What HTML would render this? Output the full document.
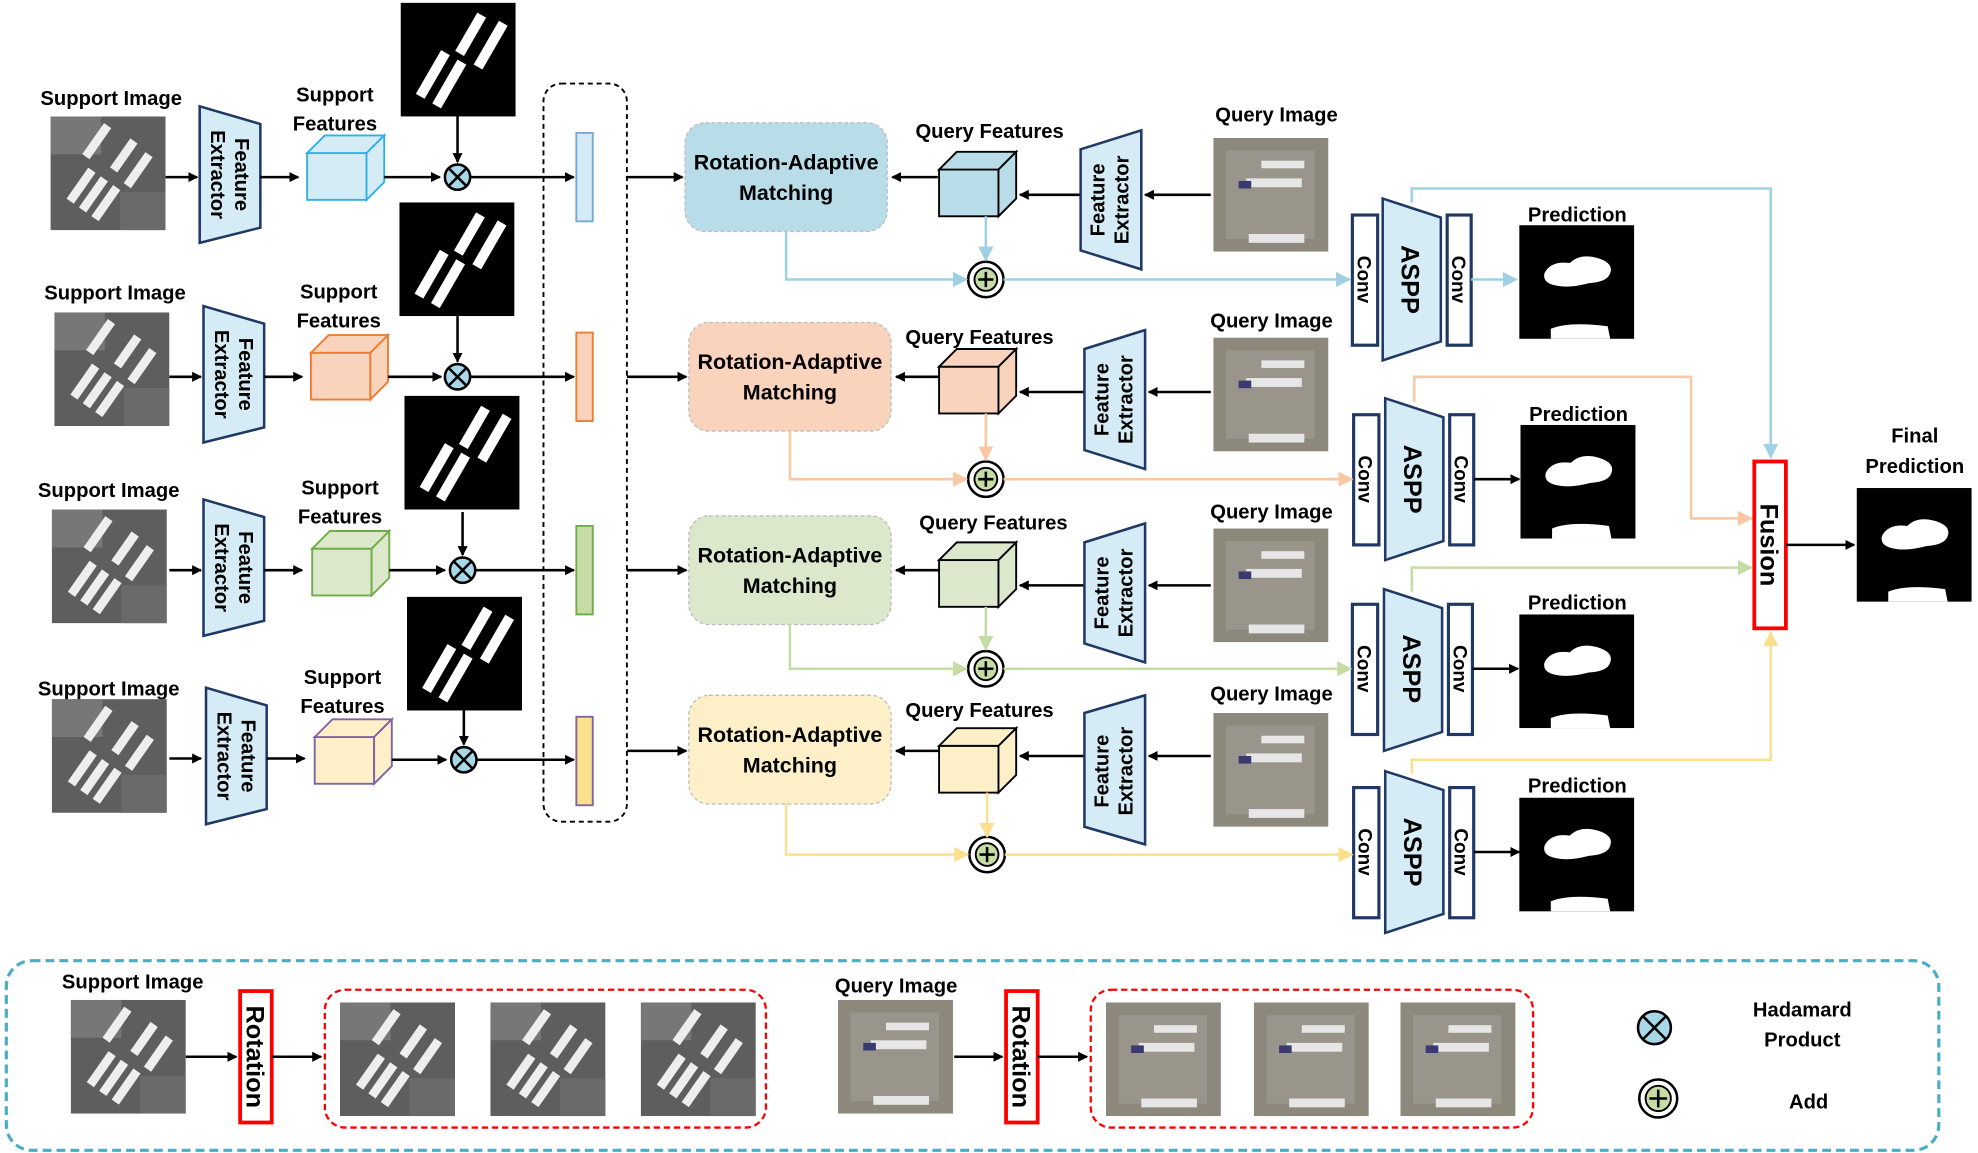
<!DOCTYPE html>
<html><head><meta charset="utf-8"><style>
html,body{margin:0;padding:0;background:#fff}
svg{display:block}
text{font-family:"Liberation Sans",sans-serif;font-weight:bold;fill:#000}
</style></head><body>
<svg width="1978" height="1153" viewBox="0 0 1565 912" xmlns="http://www.w3.org/2000/svg">
<defs>
<marker id="ab" markerWidth="8" markerHeight="8" refX="7" refY="4" orient="auto" markerUnits="userSpaceOnUse"><path d="M0,0L8,4L0,8z" fill="#000"/></marker>
<marker id="abl" markerWidth="12" markerHeight="12" refX="11" refY="6" orient="auto" markerUnits="userSpaceOnUse"><path d="M0,0L12,6L0,12z" fill="#9fd0e3"/></marker>
<marker id="aor" markerWidth="12" markerHeight="12" refX="11" refY="6" orient="auto" markerUnits="userSpaceOnUse"><path d="M0,0L12,6L0,12z" fill="#f8c8a4"/></marker>
<marker id="agr" markerWidth="12" markerHeight="12" refX="11" refY="6" orient="auto" markerUnits="userSpaceOnUse"><path d="M0,0L12,6L0,12z" fill="#c5dca5"/></marker>
<marker id="aye" markerWidth="12" markerHeight="12" refX="11" refY="6" orient="auto" markerUnits="userSpaceOnUse"><path d="M0,0L12,6L0,12z" fill="#fbe08f"/></marker>
<symbol id="simg" viewBox="0 0 91 90" width="91" height="90">
<rect width="91" height="90" fill="#5e5e5e"/><rect x="0" y="0" width="40" height="30" fill="#777"/><rect x="55" y="60" width="36" height="30" fill="#6a6a6a"/>
<g fill="#eee" transform="rotate(-55 45 45)"><rect x="10" y="30" width="30" height="7"/><rect x="10" y="42" width="30" height="7"/><rect x="10" y="54" width="30" height="7"/><rect x="46" y="20" width="30" height="7"/><rect x="46" y="60" width="30" height="7"/><rect x="50" y="44" width="28" height="7"/></g>
</symbol>
<symbol id="qimg" viewBox="0 0 91 90" width="91" height="90">
<rect width="91" height="90" fill="#8d887c"/><rect x="10" y="10" width="70" height="70" fill="#9a958a"/>
<g fill="#e6e6e6"><rect x="26" y="32" width="44" height="7"/><rect x="28" y="76" width="44" height="7"/><rect x="38" y="18" width="34" height="6"/></g>
<rect x="20" y="34" width="10" height="6" fill="#3a3a70"/>
</symbol>
<symbol id="mask" viewBox="0 0 91 90" width="91" height="90">
<rect width="91" height="90" fill="#000"/>
<g fill="#fff" transform="rotate(-60 45 45)"><rect x="5" y="30" width="40" height="8"/><rect x="5" y="45" width="40" height="8"/><rect x="50" y="40" width="35" height="8"/><rect x="48" y="58" width="40" height="8"/></g>
</symbol>
<symbol id="pred" viewBox="0 0 91 90" width="91" height="90">
<rect width="91" height="90" fill="#000"/>
<path d="M20,38 Q25,28 40,30 Q48,22 62,26 Q75,30 72,38 Q70,45 55,46 Q40,50 30,48 Q18,46 20,38z" fill="#fff"/>
<path d="M25,82 Q40,76 70,80 L72,90 L25,90z" fill="#fff"/>
</symbol>
</defs>

<!-- dashed container -->
<rect x="430" y="66" width="66" height="584" rx="14" fill="none" stroke="#000" stroke-width="1.5" stroke-dasharray="4,3"/>

<!-- ROW TEMPLATE x4 -->
<g id="r1">
<text x="88" y="83" font-size="16" text-anchor="middle">Support Image</text>
<use href="#simg" x="40" y="92"/>
<line x1="131" y1="140" x2="156" y2="140" stroke="#000" stroke-width="2" marker-end="url(#ab)"/>
<polygon points="158,84 206,98 206,180 158,192" fill="#d5ebf5" stroke="#1f3864" stroke-width="2"/>
<g transform="rotate(90 182 138)"><text x="182" y="134" font-size="16" text-anchor="middle">Feature</text><text x="182" y="153" font-size="16" text-anchor="middle">Extractor</text></g>
<line x1="206" y1="140" x2="236" y2="140" stroke="#000" stroke-width="2" marker-end="url(#ab)"/>
<text x="265" y="80" font-size="16" text-anchor="middle">Support</text><text x="265" y="103" font-size="16" text-anchor="middle">Features</text>
<g fill="#d5ebf5" stroke="#2fb0e8" stroke-width="1.5"><rect x="243" y="121" width="47" height="37"/><polygon points="243,121 257,107 304,107 290,121"/><polygon points="290,121 304,107 304,144 290,158"/></g>
<line x1="304" y1="140" x2="348" y2="140" stroke="#000" stroke-width="2" marker-end="url(#ab)"/>
<use href="#mask" x="317" y="2"/>
<line x1="362" y1="92" x2="362" y2="128" stroke="#000" stroke-width="2" marker-end="url(#ab)"/>
<circle cx="362" cy="140" r="10" fill="#a8d8e8" stroke="#000" stroke-width="2"/><path d="M355,133L369,147M369,133L355,147" stroke="#000" stroke-width="2"/>
<line x1="372" y1="140" x2="454" y2="140" stroke="#000" stroke-width="2" marker-end="url(#ab)"/>
<rect x="456" y="105" width="13" height="70" fill="#d5ebf5" stroke="#7ba7d8" stroke-width="1.5"/>
<line x1="496" y1="140" x2="540" y2="140" stroke="#000" stroke-width="2" marker-end="url(#ab)"/>
<rect x="542" y="97" width="160" height="86" rx="16" fill="#b8dde9" stroke="#bbb" stroke-dasharray="3,2"/>
<text x="622" y="134" font-size="17" text-anchor="middle">Rotation-Adaptive</text><text x="622" y="158" font-size="17" text-anchor="middle">Matching</text>
<line x1="742" y1="140" x2="706" y2="140" stroke="#000" stroke-width="2" marker-end="url(#ab)"/>
<text x="783" y="109" font-size="16" text-anchor="middle">Query Features</text>
<g fill="#b8dde9" stroke="#000" stroke-width="1.5"><rect x="743" y="134" width="47" height="37"/><polygon points="743,134 757,120 804,120 790,134"/><polygon points="790,134 804,120 804,157 790,171"/></g>
<line x1="855" y1="154" x2="807" y2="154" stroke="#000" stroke-width="2" marker-end="url(#ab)"/>
<polygon points="855,118 903,103 903,213 855,198" fill="#d5ebf5" stroke="#1f3864" stroke-width="2"/>
<g transform="rotate(-90 879 158)"><text x="879" y="153" font-size="16" text-anchor="middle">Feature</text><text x="879" y="172" font-size="16" text-anchor="middle">Extractor</text></g>
<line x1="958" y1="154" x2="906" y2="154" stroke="#000" stroke-width="2" marker-end="url(#ab)"/>
<text x="1010" y="96" font-size="16" text-anchor="middle">Query Image</text>
<use href="#qimg" x="960" y="109"/>
<circle cx="780" cy="221" r="14" fill="#fff" stroke="#000" stroke-width="2"/><circle cx="780" cy="221" r="9" fill="#c5dca5" stroke="#000" stroke-width="1.5"/><path d="M780,215V227M774,221H786" stroke="#000" stroke-width="2"/>
<rect x="1070" y="170" width="20" height="103" fill="#fff" stroke="#1f3864" stroke-width="2.5"/>
<text transform="translate(1074 221) rotate(90)" font-size="15" text-anchor="middle">Conv</text>
<polygon points="1094,157 1140,172 1140,270 1094,285" fill="#d5ebf5" stroke="#1f3864" stroke-width="2"/>
<text transform="translate(1109 221) rotate(90)" font-size="20" text-anchor="middle">ASPP</text>
<rect x="1145" y="170" width="19" height="103" fill="#fff" stroke="#1f3864" stroke-width="2.5"/>
<text transform="translate(1149 221) rotate(90)" font-size="15" text-anchor="middle">Conv</text>
<text x="1248" y="175" font-size="16" text-anchor="middle">Prediction</text>
<use href="#pred" x="1202" y="178"/>
</g>

<g transform="translate(3 158)">
<text x="88" y="79" font-size="16" text-anchor="middle">Support Image</text>
<use href="#simg" x="40" y="89"/>
<line x1="131" y1="140" x2="156" y2="140" stroke="#000" stroke-width="2" marker-end="url(#ab)"/>
<polygon points="158,84 206,98 206,180 158,192" fill="#d5ebf5" stroke="#1f3864" stroke-width="2"/>
<g transform="rotate(90 182 138)"><text x="182" y="134" font-size="16" text-anchor="middle">Feature</text><text x="182" y="153" font-size="16" text-anchor="middle">Extractor</text></g>
<line x1="206" y1="140" x2="236" y2="140" stroke="#000" stroke-width="2" marker-end="url(#ab)"/>
<text x="265" y="78" font-size="16" text-anchor="middle">Support</text><text x="265" y="101" font-size="16" text-anchor="middle">Features</text>
<g fill="#f9d3bc" stroke="#ed7d31" stroke-width="1.5"><rect x="243" y="121" width="47" height="37"/><polygon points="243,121 257,107 304,107 290,121"/><polygon points="290,121 304,107 304,144 290,158"/></g>
<line x1="304" y1="140" x2="346" y2="140" stroke="#000" stroke-width="2" marker-end="url(#ab)"/>
<use href="#mask" x="313" y="2"/>
<line x1="359" y1="92" x2="359" y2="128" stroke="#000" stroke-width="2" marker-end="url(#ab)"/>
<circle cx="359" cy="140" r="10" fill="#a8d8e8" stroke="#000" stroke-width="2"/><path d="M352,133L366,147M366,133L352,147" stroke="#000" stroke-width="2"/>
<line x1="369" y1="140" x2="451" y2="140" stroke="#000" stroke-width="2" marker-end="url(#ab)"/>
<rect x="453" y="105" width="13" height="70" fill="#f9d3bc" stroke="#ed7d31" stroke-width="1.5"/>
<line x1="493" y1="140" x2="540" y2="140" stroke="#000" stroke-width="2" marker-end="url(#ab)"/>
<rect x="542" y="97" width="160" height="86" rx="16" fill="#f9d3bc" stroke="#bbb" stroke-dasharray="3,2"/>
<text x="622" y="134" font-size="17" text-anchor="middle">Rotation-Adaptive</text><text x="622" y="158" font-size="17" text-anchor="middle">Matching</text>
<line x1="740" y1="140" x2="706" y2="140" stroke="#000" stroke-width="2" marker-end="url(#ab)"/>
<text x="772" y="114" font-size="16" text-anchor="middle">Query Features</text>
<g fill="#f9d3bc" stroke="#000" stroke-width="1.5"><rect x="740" y="132" width="47" height="37"/><polygon points="740,132 754,118 801,118 787,132"/><polygon points="787,132 801,118 801,155 787,169"/></g>
<line x1="855" y1="152" x2="804" y2="152" stroke="#000" stroke-width="2" marker-end="url(#ab)"/>
<polygon points="855,118 903,103 903,213 855,198" fill="#d5ebf5" stroke="#1f3864" stroke-width="2"/>
<g transform="rotate(-90 879 158)"><text x="879" y="153" font-size="16" text-anchor="middle">Feature</text><text x="879" y="172" font-size="16" text-anchor="middle">Extractor</text></g>
<line x1="955" y1="152" x2="906" y2="152" stroke="#000" stroke-width="2" marker-end="url(#ab)"/>
<text x="1003" y="101" font-size="16" text-anchor="middle">Query Image</text>
<use href="#qimg" x="957" y="109"/>
<circle cx="777" cy="221" r="14" fill="#fff" stroke="#000" stroke-width="2"/><circle cx="777" cy="221" r="9" fill="#c5dca5" stroke="#000" stroke-width="1.5"/><path d="M777,215V227M771,221H783" stroke="#000" stroke-width="2"/>
<rect x="1068" y="170" width="20" height="103" fill="#fff" stroke="#1f3864" stroke-width="2.5"/>
<text transform="translate(1072 221) rotate(90)" font-size="15" text-anchor="middle">Conv</text>
<polygon points="1093,157 1139,172 1139,270 1093,285" fill="#d5ebf5" stroke="#1f3864" stroke-width="2"/>
<text transform="translate(1108 221) rotate(90)" font-size="20" text-anchor="middle">ASPP</text>
<rect x="1144" y="170" width="19" height="103" fill="#fff" stroke="#1f3864" stroke-width="2.5"/>
<text transform="translate(1148 221) rotate(90)" font-size="15" text-anchor="middle">Conv</text>
<line x1="1163" y1="221" x2="1199" y2="221" stroke="#000" stroke-width="2" marker-end="url(#ab)"/>
<text x="1246" y="175" font-size="16" text-anchor="middle">Prediction</text>
<use href="#pred" x="1200" y="178"/>
</g>

<g transform="translate(3 311)">
<text x="83" y="82" font-size="16" text-anchor="middle">Support Image</text>
<use href="#simg" x="38" y="92"/>
<line x1="131" y1="140" x2="156" y2="140" stroke="#000" stroke-width="2" marker-end="url(#ab)"/>
<polygon points="158,84 206,98 206,180 158,192" fill="#d5ebf5" stroke="#1f3864" stroke-width="2"/>
<g transform="rotate(90 182 138)"><text x="182" y="134" font-size="16" text-anchor="middle">Feature</text><text x="182" y="153" font-size="16" text-anchor="middle">Extractor</text></g>
<line x1="206" y1="140" x2="236" y2="140" stroke="#000" stroke-width="2" marker-end="url(#ab)"/>
<text x="266" y="80" font-size="16" text-anchor="middle">Support</text><text x="266" y="103" font-size="16" text-anchor="middle">Features</text>
<g fill="#dbe8cc" stroke="#70ad47" stroke-width="1.5"><rect x="244" y="123" width="47" height="37"/><polygon points="244,123 258,109 305,109 291,123"/><polygon points="291,123 305,109 305,146 291,160"/></g>
<line x1="305" y1="140" x2="349" y2="140" stroke="#000" stroke-width="2" marker-end="url(#ab)"/>
<use href="#mask" x="317" y="2"/>
<line x1="363" y1="94" x2="363" y2="128" stroke="#000" stroke-width="2" marker-end="url(#ab)"/>
<circle cx="363" cy="140" r="10" fill="#a8d8e8" stroke="#000" stroke-width="2"/><path d="M356,133L370,147M370,133L356,147" stroke="#000" stroke-width="2"/>
<line x1="373" y1="140" x2="451" y2="140" stroke="#000" stroke-width="2" marker-end="url(#ab)"/>
<rect x="453" y="105" width="13" height="70" fill="#c5dca5" stroke="#70ad47" stroke-width="1.5"/>
<line x1="493" y1="140" x2="540" y2="140" stroke="#000" stroke-width="2" marker-end="url(#ab)"/>
<rect x="542" y="97" width="160" height="86" rx="16" fill="#dbe8cc" stroke="#bbb" stroke-dasharray="3,2"/>
<text x="622" y="134" font-size="17" text-anchor="middle">Rotation-Adaptive</text><text x="622" y="158" font-size="17" text-anchor="middle">Matching</text>
<line x1="740" y1="140" x2="706" y2="140" stroke="#000" stroke-width="2" marker-end="url(#ab)"/>
<text x="783" y="108" font-size="16" text-anchor="middle">Query Features</text>
<g fill="#dbe8cc" stroke="#000" stroke-width="1.5"><rect x="740" y="132" width="47" height="37"/><polygon points="740,132 754,118 801,118 787,132"/><polygon points="787,132 801,118 801,155 787,169"/></g>
<line x1="855" y1="152" x2="804" y2="152" stroke="#000" stroke-width="2" marker-end="url(#ab)"/>
<polygon points="855,118 903,103 903,213 855,198" fill="#d5ebf5" stroke="#1f3864" stroke-width="2"/>
<g transform="rotate(-90 879 158)"><text x="879" y="153" font-size="16" text-anchor="middle">Feature</text><text x="879" y="172" font-size="16" text-anchor="middle">Extractor</text></g>
<line x1="955" y1="152" x2="906" y2="152" stroke="#000" stroke-width="2" marker-end="url(#ab)"/>
<text x="1003" y="99" font-size="16" text-anchor="middle">Query Image</text>
<use href="#qimg" x="957" y="107"/>
<circle cx="777" cy="218" r="14" fill="#fff" stroke="#000" stroke-width="2"/><circle cx="777" cy="218" r="9" fill="#c5dca5" stroke="#000" stroke-width="1.5"/><path d="M777,212V224M771,218H783" stroke="#000" stroke-width="2"/>
<rect x="1067" y="167" width="20" height="103" fill="#fff" stroke="#1f3864" stroke-width="2.5"/>
<text transform="translate(1071 218) rotate(90)" font-size="15" text-anchor="middle">Conv</text>
<polygon points="1092,155 1138,170 1138,268 1092,283" fill="#d5ebf5" stroke="#1f3864" stroke-width="2"/>
<text transform="translate(1107 218) rotate(90)" font-size="20" text-anchor="middle">ASPP</text>
<rect x="1143" y="167" width="19" height="103" fill="#fff" stroke="#1f3864" stroke-width="2.5"/>
<text transform="translate(1147 218) rotate(90)" font-size="15" text-anchor="middle">Conv</text>
<line x1="1162" y1="218" x2="1198" y2="218" stroke="#000" stroke-width="2" marker-end="url(#ab)"/>
<text x="1245" y="171" font-size="16" text-anchor="middle">Prediction</text>
<use href="#pred" x="1199" y="175"/>
</g>

<g transform="translate(3 460)">
<text x="83" y="90" font-size="16" text-anchor="middle">Support Image</text>
<use href="#simg" x="38" y="93"/>
<line x1="131" y1="140" x2="156" y2="140" stroke="#000" stroke-width="2" marker-end="url(#ab)"/>
<polygon points="160,84 208,98 208,180 160,192" fill="#d5ebf5" stroke="#1f3864" stroke-width="2"/>
<g transform="rotate(90 184 138)"><text x="184" y="134" font-size="16" text-anchor="middle">Feature</text><text x="184" y="153" font-size="16" text-anchor="middle">Extractor</text></g>
<line x1="208" y1="140" x2="238" y2="140" stroke="#000" stroke-width="2" marker-end="url(#ab)"/>
<text x="268" y="81" font-size="16" text-anchor="middle">Support</text><text x="268" y="104" font-size="16" text-anchor="middle">Features</text>
<g fill="#fdf0c9" stroke="#8064a2" stroke-width="1.5"><rect x="246" y="123" width="47" height="37"/><polygon points="246,123 260,109 307,109 293,123"/><polygon points="293,123 307,109 307,146 293,160"/></g>
<line x1="307" y1="141" x2="350" y2="141" stroke="#000" stroke-width="2" marker-end="url(#ab)"/>
<use href="#mask" x="319" y="12"/>
<line x1="364" y1="102" x2="364" y2="129" stroke="#000" stroke-width="2" marker-end="url(#ab)"/>
<circle cx="364" cy="141" r="10" fill="#a8d8e8" stroke="#000" stroke-width="2"/><path d="M357,134L371,148M371,134L357,148" stroke="#000" stroke-width="2"/>
<line x1="374" y1="141" x2="451" y2="141" stroke="#000" stroke-width="2" marker-end="url(#ab)"/>
<rect x="453" y="107" width="13" height="70" fill="#fbe08f" stroke="#8064a2" stroke-width="1.5"/>
<line x1="493" y1="134" x2="540" y2="134" stroke="#000" stroke-width="2" marker-end="url(#ab)"/>
<rect x="542" y="90" width="160" height="86" rx="16" fill="#fdf0c9" stroke="#bbb" stroke-dasharray="3,2"/>
<text x="622" y="127" font-size="17" text-anchor="middle">Rotation-Adaptive</text><text x="622" y="151" font-size="17" text-anchor="middle">Matching</text>
<line x1="740" y1="134" x2="706" y2="134" stroke="#000" stroke-width="2" marker-end="url(#ab)"/>
<text x="772" y="107" font-size="16" text-anchor="middle">Query Features</text>
<g fill="#fdf0c9" stroke="#000" stroke-width="1.5"><rect x="740" y="130" width="47" height="37"/><polygon points="740,130 754,116 801,116 787,130"/><polygon points="787,130 801,116 801,153 787,167"/></g>
<line x1="855" y1="138" x2="804" y2="138" stroke="#000" stroke-width="2" marker-end="url(#ab)"/>
<polygon points="855,104 903,90 903,208 855,194" fill="#d5ebf5" stroke="#1f3864" stroke-width="2"/>
<g transform="rotate(-90 879 150)"><text x="879" y="145" font-size="16" text-anchor="middle">Feature</text><text x="879" y="164" font-size="16" text-anchor="middle">Extractor</text></g>
<line x1="955" y1="138" x2="906" y2="138" stroke="#000" stroke-width="2" marker-end="url(#ab)"/>
<text x="1003" y="94" font-size="16" text-anchor="middle">Query Image</text>
<use href="#qimg" x="957" y="104"/>
<circle cx="778" cy="216" r="14" fill="#fff" stroke="#000" stroke-width="2"/><circle cx="778" cy="216" r="9" fill="#c5dca5" stroke="#000" stroke-width="1.5"/><path d="M778,210V222M772,216H784" stroke="#000" stroke-width="2"/>
<rect x="1068" y="163" width="20" height="103" fill="#fff" stroke="#1f3864" stroke-width="2.5"/>
<text transform="translate(1072 214) rotate(90)" font-size="15" text-anchor="middle">Conv</text>
<polygon points="1093,150 1139,165 1139,263 1093,278" fill="#d5ebf5" stroke="#1f3864" stroke-width="2"/>
<text transform="translate(1108 214) rotate(90)" font-size="20" text-anchor="middle">ASPP</text>
<rect x="1144" y="163" width="19" height="103" fill="#fff" stroke="#1f3864" stroke-width="2.5"/>
<text transform="translate(1148 214) rotate(90)" font-size="15" text-anchor="middle">Conv</text>
<line x1="1163" y1="214" x2="1199" y2="214" stroke="#000" stroke-width="2" marker-end="url(#ab)"/>
<text x="1245" y="167" font-size="16" text-anchor="middle">Prediction</text>
<use href="#pred" x="1199" y="171"/>
</g>

<!-- colored connectors -->
<g fill="none" stroke-width="2">
<!-- blue -->
<path d="M780,171V206" stroke="#9fd0e3" marker-end="url(#abl)"/>
<path d="M622,183V221H765" stroke="#9fd0e3" marker-end="url(#abl)"/>
<path d="M794,221H1068" stroke="#9fd0e3" marker-end="url(#abl)"/>
<path d="M1164,221H1200" stroke="#9fd0e3" marker-end="url(#abl)"/>
<path d="M1117,160V149H1401V362" stroke="#9fd0e3" marker-end="url(#abl)"/>
<!-- orange -->
<path d="M780,327V364" stroke="#f8c8a4" marker-end="url(#aor)"/>
<path d="M625,341V379H765" stroke="#f8c8a4" marker-end="url(#aor)"/>
<path d="M794,379H1070" stroke="#f8c8a4" marker-end="url(#aor)"/>
<path d="M1119,318V298H1338V410H1386" stroke="#f8c8a4" marker-end="url(#aor)"/>
<!-- green -->
<path d="M780,480V514" stroke="#c5dca5" marker-end="url(#agr)"/>
<path d="M625,494V529H765" stroke="#c5dca5" marker-end="url(#agr)"/>
<path d="M794,529H1069" stroke="#c5dca5" marker-end="url(#agr)"/>
<path d="M1117,468V449H1386" stroke="#c5dca5" marker-end="url(#agr)"/>
<!-- yellow -->
<path d="M781,627V662" stroke="#fbe08f" marker-end="url(#aye)"/>
<path d="M622,636V676H766" stroke="#fbe08f" marker-end="url(#aye)"/>
<path d="M795,676H1070" stroke="#fbe08f" marker-end="url(#aye)"/>
<path d="M1117,612V601H1401V500" stroke="#fbe08f" marker-end="url(#aye)"/>
</g>

<!-- Fusion -->
<rect x="1388" y="365" width="25" height="132" fill="#fff" stroke="#ff0000" stroke-width="3"/>
<text transform="translate(1393 431) rotate(90)" font-size="20" text-anchor="middle">Fusion</text>
<line x1="1413" y1="431" x2="1467" y2="431" stroke="#000" stroke-width="2" marker-end="url(#ab)"/>
<text x="1515" y="350" font-size="16" text-anchor="middle">Final</text>
<text x="1515" y="374" font-size="16" text-anchor="middle">Prediction</text>
<use href="#pred" x="1469" y="386"/>

<!-- Legend -->
<rect x="5" y="760" width="1529" height="150" rx="20" fill="none" stroke="#4bacc6" stroke-width="2.5" stroke-dasharray="7,4"/>
<text x="105" y="782" font-size="16" text-anchor="middle">Support Image</text>
<use href="#simg" x="56" y="791"/>
<line x1="147" y1="836" x2="187" y2="836" stroke="#000" stroke-width="2" marker-end="url(#ab)"/>
<rect x="190" y="784" width="25" height="104" fill="#fff" stroke="#ff0000" stroke-width="3"/>
<text transform="translate(195 836) rotate(90)" font-size="20" text-anchor="middle">Rotation</text>
<line x1="215" y1="836" x2="254" y2="836" stroke="#000" stroke-width="2" marker-end="url(#ab)"/>
<rect x="257" y="783" width="349" height="109" rx="16" fill="none" stroke="#ff0000" stroke-width="1.8" stroke-dasharray="5,3"/>
<use href="#simg" x="269" y="793"/><use href="#simg" x="388" y="793"/><use href="#simg" x="507" y="793"/>
<text x="709" y="785" font-size="16" text-anchor="middle">Query Image</text>
<use href="#qimg" x="663" y="791"/>
<line x1="755" y1="836" x2="793" y2="836" stroke="#000" stroke-width="2" marker-end="url(#ab)"/>
<rect x="796" y="784" width="25" height="104" fill="#fff" stroke="#ff0000" stroke-width="3"/>
<text transform="translate(801 836) rotate(90)" font-size="20" text-anchor="middle">Rotation</text>
<line x1="821" y1="836" x2="860" y2="836" stroke="#000" stroke-width="2" marker-end="url(#ab)"/>
<rect x="863" y="783" width="350" height="109" rx="16" fill="none" stroke="#ff0000" stroke-width="1.8" stroke-dasharray="5,3"/>
<use href="#qimg" x="875" y="793"/><use href="#qimg" x="992" y="793"/><use href="#qimg" x="1108" y="793"/>
<circle cx="1309" cy="813" r="13" fill="#a8d8e8" stroke="#000" stroke-width="2"/><path d="M1300,804L1318,822M1318,804L1300,822" stroke="#000" stroke-width="2"/>
<text x="1426" y="804" font-size="16" text-anchor="middle">Hadamard</text>
<text x="1426" y="828" font-size="16" text-anchor="middle">Product</text>
<circle cx="1312" cy="869" r="15" fill="#fff" stroke="#000" stroke-width="2"/><circle cx="1312" cy="869" r="10" fill="#c5dca5" stroke="#000" stroke-width="1.5"/><path d="M1312,862V876M1305,869H1319" stroke="#000" stroke-width="2"/>
<text x="1431" y="877" font-size="16" text-anchor="middle">Add</text>
</svg>
</body></html>
